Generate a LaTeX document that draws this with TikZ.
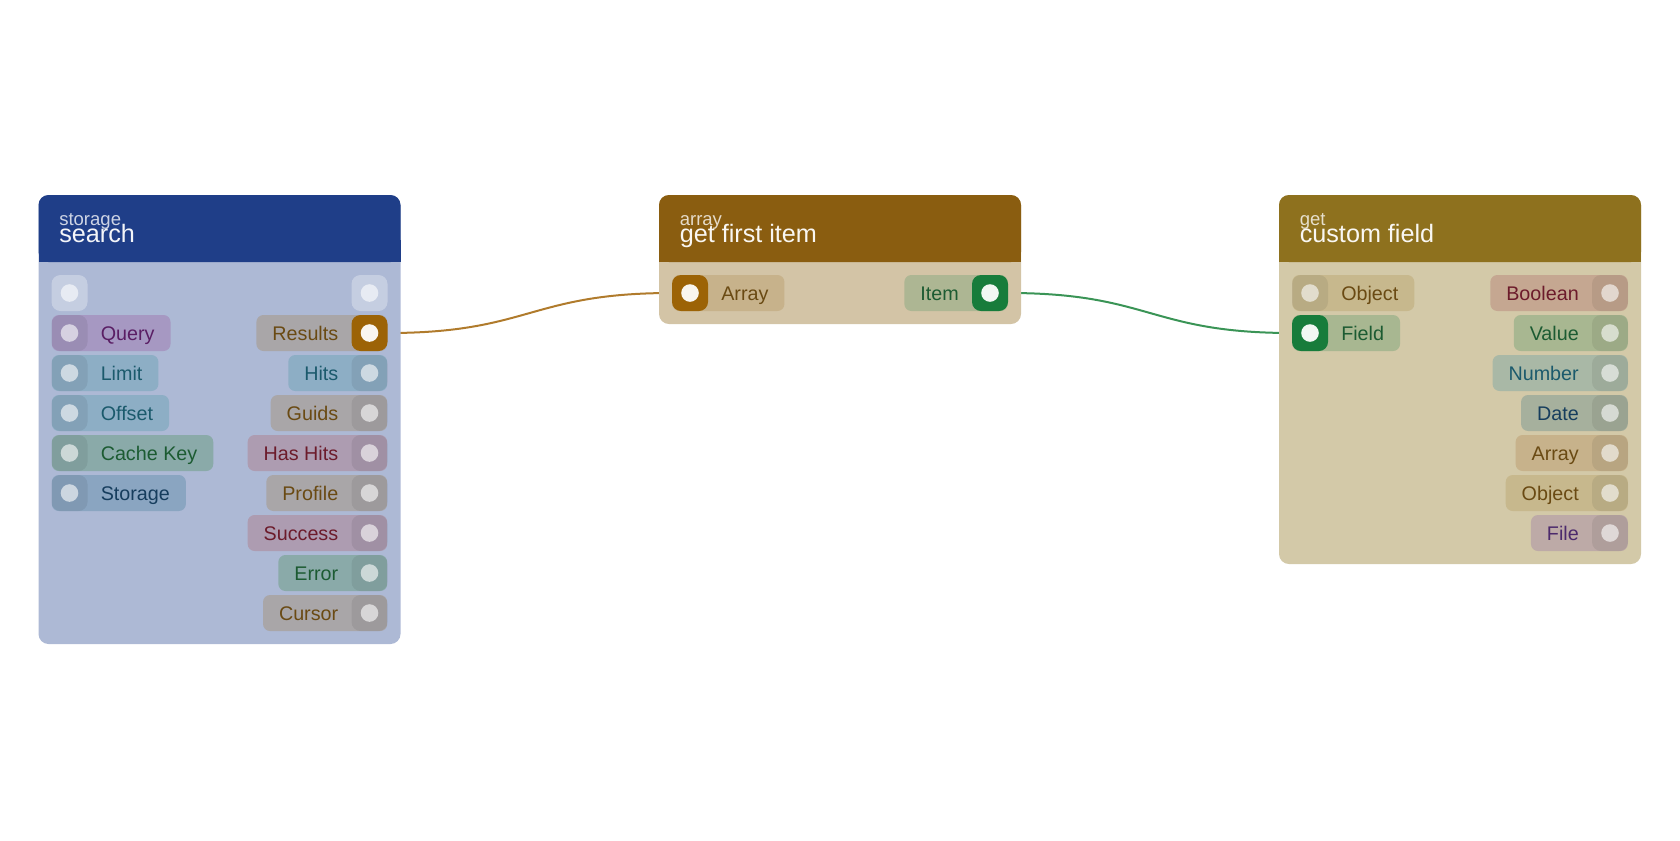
\documentclass[tikz,border=0pt]{standalone}
\usepackage{fontspec}
\setmainfont{Liberation Sans}
\usepackage{xcolor}
\usepackage{tikz}
\usetikzlibrary{backgrounds}

\definecolor{searchhead}{HTML}{1F3E88}
\definecolor{searchbody}{HTML}{ADB9D5}
\definecolor{firsthead}{HTML}{8A5D10}
\definecolor{firstbody}{HTML}{D3C4A6}
\definecolor{fieldhead}{HTML}{8E711E}
\definecolor{fieldbody}{HTML}{D3C9A8}
\definecolor{purplepill}{HTML}{A698C2}
\definecolor{purpletext}{HTML}{5A1E64}
\definecolor{bluepill}{HTML}{8DAEC5}
\definecolor{bluetext}{HTML}{1B5A6C}
\definecolor{tealpill}{HTML}{8AAAA9}
\definecolor{greentext}{HTML}{1C5B32}
\definecolor{navypill}{HTML}{8AA5C1}
\definecolor{navytext}{HTML}{163D5D}
\definecolor{greypill}{HTML}{A9A6A8}
\definecolor{browntext}{HTML}{6A4A13}
\definecolor{mauvepill}{HTML}{AD9CB1}
\definecolor{redtext}{HTML}{6C1B2B}
\definecolor{arraypill}{HTML}{C7B28B}
\definecolor{itempill}{HTML}{ADB693}
\definecolor{objectpill}{HTML}{C7B88D}
\definecolor{fieldpill}{HTML}{A8B791}
\definecolor{boolpill}{HTML}{C5A791}
\definecolor{numberpill}{HTML}{A9B8A6}
\definecolor{datepill}{HTML}{A6B09D}
\definecolor{filepill}{HTML}{BDAAA7}
\definecolor{filetext}{HTML}{4C2A6C}
\definecolor{wireorange}{HTML}{B07B2C}
\definecolor{wiregreen}{HTML}{3A9456}
\definecolor{sockorange}{HTML}{9C6306}
\definecolor{sockgreen}{HTML}{177C3B}

\begin{document}
\begin{tikzpicture}[x=0.75pt, y=-0.75pt,
  pill/.style={rounded corners=5.25pt, minimum height=27pt, inner xsep=12pt, inner ysep=0pt,
    text height=10.6pt, text depth=0pt, font=\fontsize{14.8}{17}\selectfont},
  inpill/.style={pill, anchor=west, execute at begin node={\hspace{24.75pt}}},
  outpill/.style={pill, anchor=east, execute at end node={\hspace{24.75pt}}},
  socket/.style={rounded corners=6.75pt, minimum size=27pt, inner sep=0pt, fill=black, fill opacity=.07,
    path picture={\fill[white, fill opacity=.6] (path picture bounding box.center) circle (6.6pt);}},
  freesocket/.style={socket, fill=white, fill opacity=.3},
  onsocket/.style={socket, fill=#1, fill opacity=1,
    path picture={\fill[white!94!#1] (path picture bounding box.center) circle (6.6pt);}},
  headcat/.style={anchor=base west, inner sep=0pt, text=white, text opacity=.78, font=\fontsize{13.9}{16}\selectfont},
  headtitle/.style={anchor=base west, inner sep=0pt, text=white, text opacity=.95, font=\fontsize{18.9}{22}\selectfont},
  wire/.style={line width=1.5pt}
]
\useasboundingbox (0,0) rectangle (1680,840);

% storage search
\fill[searchbody, rounded corners=7.5pt] (38.5,195) rectangle (400.5,644);
\fill[searchhead, rounded corners=7.5pt] (38.5,195) rectangle (400.5,262);
\fill[searchhead] (38.5,240) rectangle (400.5,262);
\node[headcat] (searchcat) at (59,225.5) {storage};
\node[headtitle] (searchtitle) at (59,242.7) {search};
\node[freesocket] (searchin) at (69.5,293) {};
\node[freesocket] (searchout) at (369.5,293) {};
\node[inpill, fill=purplepill, text=purpletext] (query) at (51.5,333) {Query};
\node[socket] (querypin) at (69.5,333) {};
\node[inpill, fill=bluepill, text=bluetext] (limit) at (51.5,373) {Limit};
\node[socket] (limitpin) at (69.5,373) {};
\node[inpill, fill=bluepill, text=bluetext] (offset) at (51.5,413) {Offset};
\node[socket] (offsetpin) at (69.5,413) {};
\node[inpill, fill=tealpill, text=greentext] (cachekey) at (51.5,453) {Cache Key};
\node[socket] (cachekeypin) at (69.5,453) {};
\node[inpill, fill=navypill, text=navytext] (storage) at (51.5,493) {Storage};
\node[socket] (storagepin) at (69.5,493) {};
\node[outpill, fill=greypill, text=browntext] (results) at (387.5,333) {Results};
\node[onsocket=sockorange] (resultspin) at (369.5,333) {};
\node[outpill, fill=bluepill, text=bluetext] (hits) at (387.5,373) {Hits};
\node[socket] (hitspin) at (369.5,373) {};
\node[outpill, fill=greypill, text=browntext] (guids) at (387.5,413) {Guids};
\node[socket] (guidspin) at (369.5,413) {};
\node[outpill, fill=mauvepill, text=redtext] (hashits) at (387.5,453) {Has Hits};
\node[socket] (hashitspin) at (369.5,453) {};
\node[outpill, fill=greypill, text=browntext] (profile) at (387.5,493) {Profile};
\node[socket] (profilepin) at (369.5,493) {};
\node[outpill, fill=mauvepill, text=redtext] (success) at (387.5,533) {Success};
\node[socket] (successpin) at (369.5,533) {};
\node[outpill, fill=tealpill, text=greentext] (error) at (387.5,573) {Error};
\node[socket] (errorpin) at (369.5,573) {};
\node[outpill, fill=greypill, text=browntext] (cursor) at (387.5,613) {Cursor};
\node[socket] (cursorpin) at (369.5,613) {};

% array get first item
\fill[firstbody, rounded corners=7.5pt] (659,195) rectangle (1021,324);
\fill[firsthead, rounded corners=7.5pt] (659,195) rectangle (1021,262);
\fill[firsthead] (659,240) rectangle (1021,262);
\node[headcat] (firstcat) at (679.5,225.5) {array};
\node[headtitle] (firsttitle) at (679.5,242.7) {get first item};
\node[inpill, fill=arraypill, text=browntext] (array) at (672,293) {Array};
\node[onsocket=sockorange] (arraypin) at (690,293) {};
\node[outpill, fill=itempill, text=greentext] (item) at (1008,293) {Item};
\node[onsocket=sockgreen] (itempin) at (990,293) {};

% get custom field
\fill[fieldbody, rounded corners=7.5pt] (1279,195) rectangle (1641,564);
\fill[fieldhead, rounded corners=7.5pt] (1279,195) rectangle (1641,262);
\fill[fieldhead] (1279,240) rectangle (1641,262);
\node[headcat] (fieldcat) at (1299.5,225.5) {get};
\node[headtitle] (fieldtitle) at (1299.5,242.7) {custom field};
\node[inpill, fill=objectpill, text=browntext] (objectin) at (1292,293) {Object};
\node[socket] (objectinpin) at (1310,293) {};
\node[inpill, fill=fieldpill, text=greentext] (field) at (1292,333) {Field};
\node[onsocket=sockgreen] (fieldpin) at (1310,333) {};
\node[outpill, fill=boolpill, text=redtext] (boolean) at (1628,293) {Boolean};
\node[socket] (booleanpin) at (1610,293) {};
\node[outpill, fill=fieldpill, text=greentext] (value) at (1628,333) {Value};
\node[socket] (valuepin) at (1610,333) {};
\node[outpill, fill=numberpill, text=bluetext] (number) at (1628,373) {Number};
\node[socket] (numberpin) at (1610,373) {};
\node[outpill, fill=datepill, text=navytext] (date) at (1628,413) {Date};
\node[socket] (datepin) at (1610,413) {};
\node[outpill, fill=arraypill, text=browntext] (arrayout) at (1628,453) {Array};
\node[socket] (arrayoutpin) at (1610,453) {};
\node[outpill, fill=objectpill, text=browntext] (objectout) at (1628,493) {Object};
\node[socket] (objectoutpin) at (1610,493) {};
\node[outpill, fill=filepill, text=filetext] (file) at (1628,533) {File};
\node[socket] (filepin) at (1610,533) {};

% wires
\begin{scope}[on background layer]
\draw[wire, wireorange] (resultspin.east) .. controls +(142,0) and +(-142,0) .. (arraypin.west);
\draw[wire, wiregreen] (itempin.east) .. controls +(142,0) and +(-142,0) .. (fieldpin.west);
\end{scope}
\end{tikzpicture}
\end{document}
